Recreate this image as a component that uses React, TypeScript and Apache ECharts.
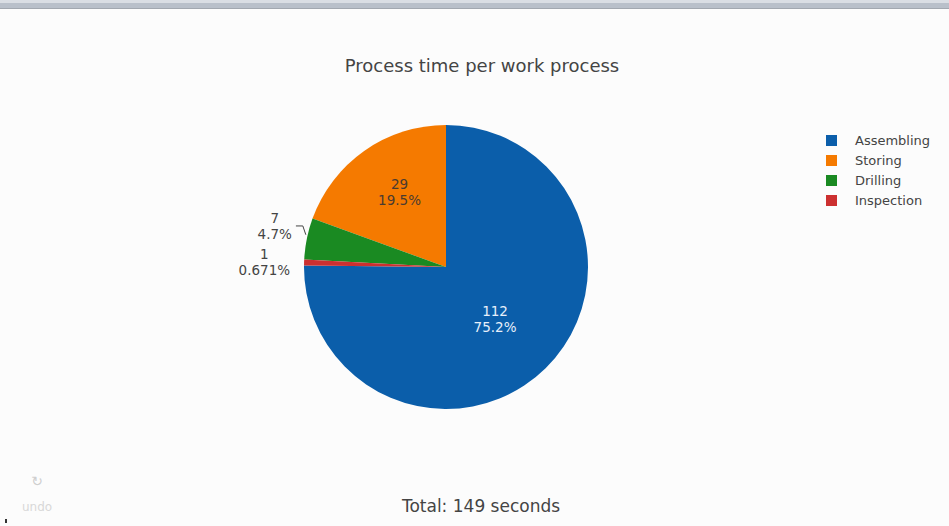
import React, { useEffect, useRef } from "react";
import * as echarts from "echarts";

const categories = ["Assembling", "Storing", "Drilling", "Inspection"];
const values = [112, 29, 7, 1];
const sliceColors = ["#0b5eaa", "#f57a00", "#1a8a22", "#cc3030"];
const labelPlacement = ["inside", "inside", "outside", "outside"];
const insideTextColors = ["#e8f0fb", "#4a3a30", "#444444", "#444444"];
const showLabelLine = [false, false, true, false];
const titleText = "Process time per work process";
const totalUnit = "seconds";

const FONT = "DejaVu Sans, Verdana, sans-serif";

export default function App() {
  const ref = useRef<HTMLDivElement>(null);

  useEffect(() => {
    if (!ref.current) return;
    const chart = echarts.init(ref.current, undefined, { renderer: "svg" });
    const total = values.reduce((a, b) => a + b, 0);
    const pct = (v: number) => Number(((v / total) * 100).toPrecision(3)) + "%";

    const data = categories.map((name, i) => ({
      name,
      value: values[i],
      itemStyle: { color: sliceColors[i] },
      label: {
        position: labelPlacement[i],
        color: insideTextColors[i],
      },
      labelLine: { show: showLabelLine[i] },
    }));

    const labelShift: Record<number, { dx: number; dy: number }> = {
      0: { dx: -3, dy: -1 },
      1: { dx: -4, dy: -14 },
      2: { dx: 0, dy: -12 },
      3: { dx: 1, dy: 0 },
    };

    chart.setOption({
      animation: false,
      backgroundColor: "#fcfcfc",
      title: [
        {
          text: titleText,
          left: 477,
          top: 51,
          textAlign: "center",
          textStyle: { fontFamily: FONT, fontSize: 18, fontWeight: "normal", color: "#444" },
        },
        {
          text: `Total: ${total} ${totalUnit}`,
          left: 476,
          top: 492,
          textAlign: "center",
          textStyle: { fontFamily: FONT, fontSize: 17, fontWeight: "normal", color: "#444" },
        },
      ],
      legend: {
        orient: "vertical",
        left: 821,
        top: 129,
        itemWidth: 11,
        itemHeight: 11,
        itemGap: 7,
        icon: "rect",
        data: categories,
        textStyle: { fontFamily: FONT, fontSize: 13, color: "#444", padding: [0, 0, 0, 13] },
      },
      graphic: [
        { type: "rect", shape: { x: 0, y: 0, width: 949, height: 3 }, style: { fill: "#dadee4" } },
        { type: "rect", shape: { x: 0, y: 3, width: 949, height: 5 }, style: { fill: "#b9c0ca" } },
        { type: "rect", shape: { x: 0, y: 8, width: 949, height: 1 }, style: { fill: "#a2a8b0" } },
        {
          type: "text",
          x: 37,
          y: 481,
          style: { text: "↻", fontSize: 14, fill: "#cfcfcf", align: "center", verticalAlign: "middle", fontFamily: FONT },
        },
        {
          type: "text",
          x: 37,
          y: 507,
          style: { text: "undo", fontSize: 12, fill: "#d8d8d8", align: "center", verticalAlign: "middle", fontFamily: FONT },
        },
        { type: "rect", shape: { x: 5, y: 519, width: 2, height: 4 }, style: { fill: "#333" } },
      ],
      series: [
        {
          type: "pie",
          center: [446, 267],
          radius: 142,
          clockwise: false,
          startAngle: 90 + 360 * (1 - values[0] / total),
          avoidLabelOverlap: false,
          data,
          label: {
            fontFamily: FONT,
            fontSize: 13.5,
            lineHeight: 16,
            formatter: (p: any) => `{a|${p.value}}\n{a|${pct(p.value)}}`,
            rich: { a: { align: "center", fontFamily: FONT, fontSize: 13.5, lineHeight: 16 } },
          },
          labelLine: {
            length: 4,
            length2: 6,
            lineStyle: { color: "#444", width: 1 },
          },
          labelLayout: (params: any) => {
            const s = labelShift[params.dataIndex] || { dx: 0, dy: 0 };
            const out: any = { dx: s.dx, dy: s.dy };
            const pts = params.labelLinePoints;
            if (showLabelLine[params.dataIndex] && pts && pts.length) {
              const r = params.labelRect;
              const cy = r.y + r.height / 2 + s.dy;
              const right = r.x + r.width + s.dx;
              const p0 = pts[0];
              out.labelLinePoints = [
                [p0[0] - 1, p0[1] - 4],
                [p0[0] - 4, cy],
                [right + 4, cy],
              ];
            }
            return out;
          },
          emphasis: { disabled: true },
        },
      ],
    });
    return () => chart.dispose();
  }, []);

  return (
    <div
      ref={ref}
      style={{ position: "fixed", left: 0, top: 0, width: 949, height: 526 }}
    />
  );
}
